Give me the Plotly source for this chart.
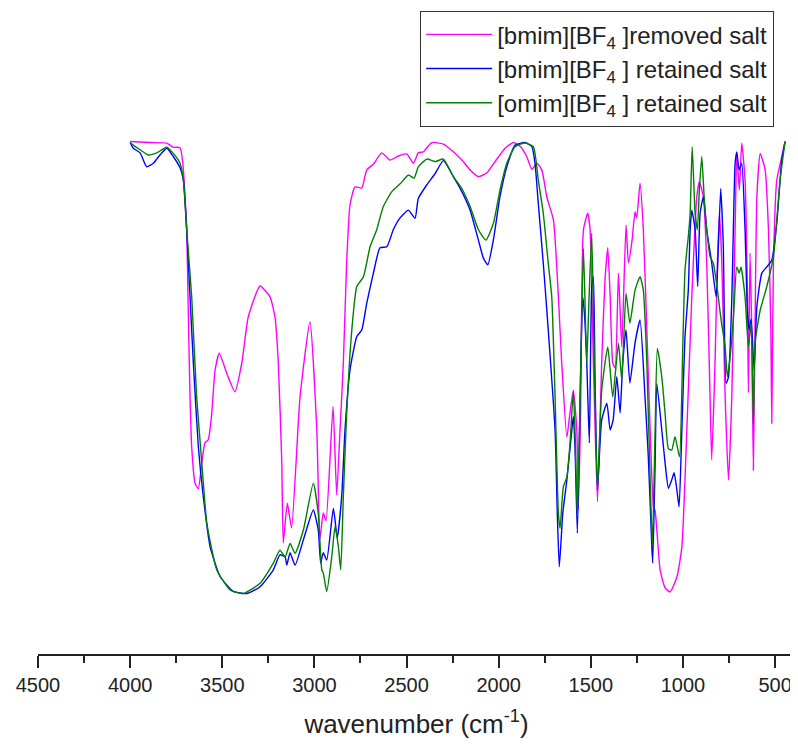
import plotly.graph_objects as go

# ---- data (wavenumber cm-1, transmittance %) ----
wn_removed = [4000, 3892, 3801, 3767, 3729, 3713, 3693, 3686, 3675, 3666, 3648, 3630, 3611, 3594, 3576, 3557,
              3539, 3516, 3476, 3431, 3394, 3359, 3295, 3241, 3214, 3196, 3177, 3169, 3147, 3124, 3078, 3024,
              2987, 2970, 2952, 2937, 2899, 2879, 2861, 2843, 2825, 2807, 2780, 2743, 2716, 2680, 2635, 2590,
              2545, 2499, 2463, 2436, 2409, 2363, 2300, 2246, 2200, 2155, 2110, 2065, 2020, 1965, 1920, 1884,
              1848, 1820, 1793, 1766, 1739, 1703, 1676, 1658, 1630, 1613, 1595, 1576, 1568, 1556, 1540, 1517,
              1504, 1486, 1464, 1441, 1423, 1408, 1395, 1381, 1368, 1350, 1332, 1309, 1296, 1276, 1260, 1251,
              1233, 1215, 1196, 1178, 1160, 1151, 1124, 1097, 1070, 1033, 1006, 979, 952, 925, 911, 889,
              871, 853, 844, 826, 813, 802, 789, 771, 753, 735, 717, 708, 694, 681, 663, 650,
              645, 636, 627, 618, 609, 599, 581, 554, 536, 523, 518, 509, 491, 464, 446]
t_removed = [99.9, 99.7, 99.6, 98.8, 98.7, 95.3, 82.8, 69.8, 50.4, 40.7, 33.7, 32.6, 37.6, 41.5, 42.1, 47.3,
             55.6, 58.9, 55.0, 51.4, 57.0, 65.9, 71.9, 69.8, 65.9, 57.0, 37.6, 22.1, 29.8, 25.0, 50.4, 65.0,
             44.0, 22.9, 27.9, 26.4, 48.5, 31.4, 44.0, 57.0, 76.4, 87.6, 91.1, 90.9, 94.4, 95.5, 97.7, 96.3,
             97.1, 97.5, 95.7, 97.7, 97.9, 99.7, 99.4, 97.9, 96.3, 94.4, 93.1, 93.8, 96.0, 98.6, 99.7, 99.0,
             97.0, 94.5, 95.7, 94.4, 89.2, 84.7, 69.8, 57.0, 42.6, 47.3, 51.7, 44.0, 28.5, 45.9, 82.8, 86.0,
             82.8, 57.0, 30.1, 57.0, 73.1, 79.3, 69.8, 57.0, 56.0, 74.4, 60.1, 83.7, 76.4, 80.8, 86.3, 85.1,
             91.8, 82.8, 63.4, 44.0, 29.1, 28.3, 16.9, 13.4, 12.6, 15.5, 21.3, 44.0, 69.8, 89.1, 92.1, 89.1,
             76.4, 50.4, 38.2, 57.0, 76.4, 86.0, 76.4, 50.4, 34.3, 50.4, 82.8, 97.6, 90.5, 99.6, 92.4, 69.8,
             51.2, 78.3, 63.4, 36.2, 63.4, 89.1, 97.6, 94.4, 82.8, 63.4, 45.3, 76.4, 92.4, 96.9, 99.9]

wn_bmim = [4000, 3983, 3946, 3910, 3874, 3838, 3801, 3766, 3729, 3711, 3693, 3675, 3657, 3630, 3603, 3566,
           3512, 3440, 3367, 3295, 3223, 3187, 3159, 3150, 3132, 3105, 3060, 3006, 2979, 2966, 2952, 2933,
           2897, 2876, 2852, 2834, 2807, 2770, 2743, 2716, 2680, 2644, 2607, 2572, 2535, 2490, 2454, 2436,
           2390, 2345, 2300, 2246, 2200, 2155, 2110, 2083, 2059, 2029, 1993, 1956, 1911, 1857, 1820, 1803,
           1785, 1758, 1731, 1694, 1682, 1671, 1652, 1630, 1603, 1595, 1586, 1573, 1558, 1544, 1535, 1522,
           1508, 1495, 1486, 1477, 1464, 1441, 1413, 1395, 1379, 1359, 1341, 1327, 1309, 1288, 1260, 1233,
           1206, 1188, 1169, 1164, 1151, 1142, 1115, 1097, 1079, 1061, 1048, 1033, 1021, 1006, 989, 971,
           961, 952, 934, 920, 907, 889, 871, 844, 820, 808, 795, 781, 766, 753, 735, 717,
           708, 695, 681, 663, 650, 640, 630, 614, 599, 572, 545, 518, 491, 473, 464, 446]
t_bmim = [99.7, 98.6, 97.7, 95.0, 95.7, 97.3, 98.6, 97.0, 94.8, 92.4, 82.8, 69.8, 57.0, 40.8, 31.1, 21.4,
          15.6, 12.7, 12.3, 13.6, 16.9, 19.8, 19.4, 17.8, 20.2, 17.8, 22.7, 28.5, 24.6, 18.2, 20.2, 18.8,
          28.8, 23.1, 31.1, 44.0, 55.6, 62.1, 63.4, 68.6, 74.4, 79.3, 79.5, 82.8, 85.1, 86.6, 85.0, 88.9,
          91.5, 93.7, 96.2, 93.1, 90.2, 86.6, 80.8, 77.3, 76.0, 80.8, 89.2, 95.0, 99.2, 99.7, 98.9, 95.7,
          87.9, 76.3, 63.4, 44.0, 27.9, 17.5, 27.9, 34.3, 44.0, 46.6, 40.8, 24.0, 50.4, 69.8, 66.7, 57.0,
          41.5, 71.8, 73.7, 53.7, 32.4, 45.9, 49.2, 44.0, 45.9, 54.3, 47.3, 57.0, 63.4, 53.1, 60.9, 65.3,
          50.4, 38.8, 21.4, 18.2, 37.6, 53.0, 44.0, 37.6, 32.7, 34.3, 35.7, 32.4, 29.1, 44.0, 62.1, 71.1,
          82.8, 86.6, 82.8, 71.8, 86.0, 89.2, 82.8, 76.4, 69.8, 79.5, 90.8, 79.5, 53.0, 54.3, 69.2, 95.7,
          97.9, 94.4, 95.7, 82.8, 66.7, 63.4, 65.5, 55.6, 67.9, 74.4, 75.6, 76.9, 84.1, 92.4, 96.3, 99.9]

wn_omim = [4000, 3983, 3946, 3901, 3856, 3801, 3766, 3729, 3711, 3693, 3666, 3639, 3611, 3584, 3530, 3458,
           3386, 3295, 3223, 3187, 3159, 3132, 3105, 3060, 3006, 2979, 2960, 2952, 2933, 2906, 2888, 2870,
           2857, 2843, 2825, 2797, 2770, 2734, 2698, 2662, 2626, 2580, 2535, 2490, 2459, 2436, 2390, 2345,
           2300, 2246, 2200, 2155, 2110, 2069, 2029, 1993, 1956, 1911, 1857, 1812, 1785, 1758, 1731, 1712,
           1694, 1676, 1667, 1649, 1630, 1613, 1595, 1586, 1573, 1558, 1540, 1522, 1510, 1495, 1481, 1464,
           1441, 1408, 1381, 1350, 1332, 1309, 1288, 1260, 1233, 1215, 1196, 1178, 1166, 1151, 1139, 1115,
           1097, 1079, 1061, 1043, 1019, 1001, 989, 971, 961, 950, 934, 922, 911, 898, 885, 871,
           853, 835, 813, 793, 771, 759, 744, 726, 708, 695, 685, 663, 645, 630, 618, 609,
           581, 545, 509, 473, 446]
t_omim = [99.7, 99.2, 98.3, 97.3, 97.7, 98.8, 97.6, 95.7, 92.4, 82.8, 69.8, 50.4, 37.6, 26.0, 16.9, 13.0,
          12.3, 14.3, 18.2, 20.7, 19.4, 22.0, 20.1, 24.6, 33.7, 27.8, 16.9, 16.3, 12.7, 19.4, 25.3, 21.4,
          16.9, 31.1, 47.2, 63.4, 71.8, 73.7, 79.5, 82.8, 87.3, 90.2, 91.7, 93.4, 92.8, 95.0, 96.5, 96.0,
          96.5, 93.1, 90.8, 87.3, 82.8, 80.8, 84.0, 90.5, 95.7, 98.9, 99.6, 98.9, 92.4, 86.0, 76.3, 69.8,
          50.4, 27.8, 24.9, 33.0, 34.9, 41.4, 51.4, 44.0, 27.2, 50.4, 79.2, 56.9, 69.2, 82.1, 57.0, 32.4,
          51.7, 60.1, 50.4, 60.8, 53.7, 70.5, 64.7, 71.1, 73.7, 71.1, 56.9, 34.3, 21.4, 44.0, 59.8, 54.3,
          47.2, 40.4, 40.1, 42.7, 38.8, 60.1, 75.0, 81.5, 86.0, 98.9, 86.0, 82.8, 90.5, 97.0, 89.2, 82.8,
          77.6, 76.3, 71.1, 65.3, 60.1, 54.3, 58.2, 65.9, 75.6, 74.4, 75.6, 69.8, 60.1, 64.7, 45.3, 60.8,
          67.2, 71.8, 77.6, 92.4, 99.9]

series_names = ["[bmim][BF<sub>4</sub> ]removed salt",
                "[bmim][BF<sub>4</sub> ] retained salt",
                "[omim][BF<sub>4</sub> ] retained salt"]
series_colors = ["#FF00FF", "#0000FF", "#008000"]
x_ticks = [4500, 4000, 3500, 3000, 2500, 2000, 1500, 1000, 500]

FONT = "Arial, 'Liberation Sans', sans-serif"

fig = go.Figure()
for wn, t, name, col in zip([wn_removed, wn_bmim, wn_omim],
                            [t_removed, t_bmim, t_omim],
                            series_names, series_colors):
    fig.add_trace(go.Scatter(x=wn, y=t, mode="lines", name=name,
                             line=dict(color=col, width=1.4, shape="spline", smoothing=0.5)))

fig.update_layout(
    width=790, height=736,
    margin=dict(l=30, r=3, t=2, b=90),
    paper_bgcolor="white", plot_bgcolor="white",
    font=dict(family=FONT, color="#222222", size=20),
    showlegend=True,
    legend=dict(x=0.5046, y=0.9984, xanchor="left", yanchor="top",
                bordercolor="#333333", borderwidth=1.2, bgcolor="white",
                font=dict(family=FONT, size=24, color="#222222"),
                tracegroupgap=0, itemwidth=66),
    xaxis=dict(range=[4500, 392], tickvals=x_ticks, ticktext=[str(v) for v in x_ticks],
               showgrid=False, zeroline=False, showline=True, linecolor="#222222", linewidth=2,
               ticks="outside", ticklen=12, tickwidth=1.5, tickcolor="#222222",
               minor=dict(dtick=250, tick0=0, ticks="outside", ticklen=7, tickwidth=1.5, tickcolor="#222222"),
               tickfont=dict(size=20, family=FONT, color="#222222"),
               title=dict(text="wavenumber (cm<sup>-1</sup>)", font=dict(size=26, family=FONT, color="#222222"),
                          standoff=20)),
    yaxis=dict(range=[0.58, 125.39], visible=False, showgrid=False, zeroline=False),
)

fig.write_html("out.html")
